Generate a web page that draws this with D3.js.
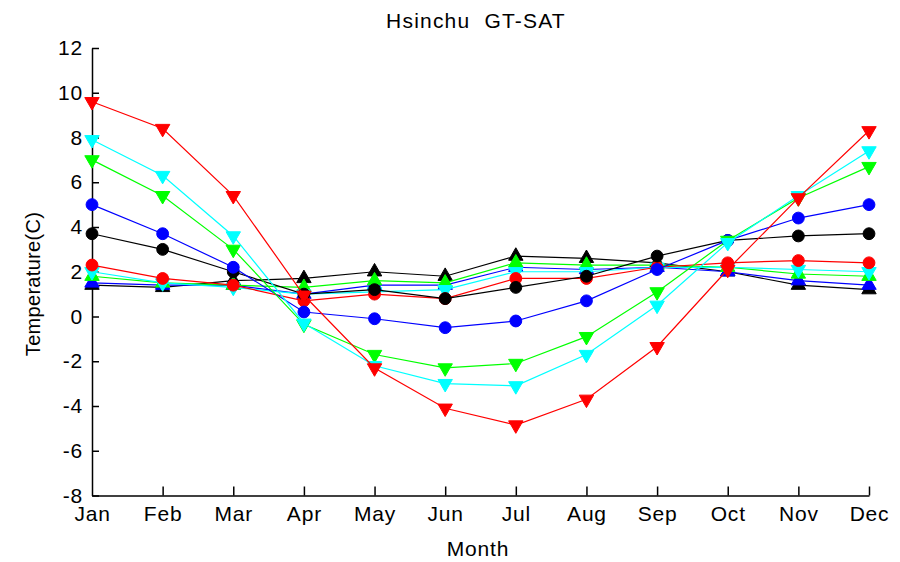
<!DOCTYPE html>
<html>
<head>
<meta charset="utf-8">
<script src="https://cdn.jsdelivr.net/npm/d3@7/dist/d3.min.js"></script>
<style>
  html, body { margin: 0; padding: 0; background: #fff; }
  svg { display: block; }
  text { font-family: "Liberation Sans", Arial, sans-serif; fill: #000; }
</style>
</head>
<body>
<svg id="chart" width="900" height="562"></svg>
<script>
// Monthly temperature curves for Hsinchu (GT-SAT)
const months = ["Jan","Feb","Mar","Apr","May","Jun","Jul","Aug","Sep","Oct","Nov","Dec"];
const yTicks = [-8,-6,-4,-2,0,2,4,6,8,10,12];

const blackUp   = [1.4, 1.3, 1.6, 1.7, 2.0, 1.8, 2.7, 2.6, 2.4, 2.0, 1.4, 1.2];
const blueUp    = [1.5, 1.4, 1.4, 1.0, 1.4, 1.4, 2.2, 2.1, 2.2, 2.0, 1.6, 1.4];
const greenUp   = [1.8, 1.5, 1.4, 1.3, 1.6, 1.5, 2.4, 2.3, 2.3, 2.2, 1.9, 1.8];
const cyanSmall = [2.0, 1.5, 1.3, 1.0, 1.1, 1.2, 2.0, 2.0, 2.2, 2.2, 2.1, 2.0];
const redDot    = [2.3, 1.7, 1.4, 0.7, 1.0, 0.8, 1.7, 1.7, 2.2, 2.4, 2.5, 2.4];
const blackDot  = [3.7, 3.0, 2.0, 1.0, 1.2, 0.8, 1.3, 1.8, 2.7, 3.4, 3.6, 3.7];
const blueDot   = [5.0, 3.7, 2.2, 0.2, -0.1, -0.5, -0.2, 0.7, 2.1, 3.4, 4.4, 5.0];
const greenDown = [7.0, 5.4, 3.0, -0.35, -1.7, -2.3, -2.1, -0.9, 1.1, 3.4, 5.3, 6.7];
const cyanDown  = [7.9, 6.3, 3.6, -0.3, -2.2, -3.0, -3.1, -1.7, 0.5, 3.3, 5.4, 7.4];
const redDown   = [9.6, 8.4, 5.4, 0.95, -2.3, -4.1, -4.85, -3.7, -1.35, 2.1, 5.3, 8.3];

// drawn in this order, later series on top
const series = [
  { values: blackUp,   color: "#000000", marker: "up" },
  { values: blueUp,    color: "#0000ff", marker: "up" },
  { values: greenUp,   color: "#00ff00", marker: "up" },
  { values: cyanSmall, color: "#00ffff", marker: "down" },
  { values: redDot,    color: "#ff0000", marker: "circle" },
  { values: blackDot,  color: "#000000", marker: "circle" },
  { values: blueDot,   color: "#0000ff", marker: "circle" },
  { values: greenDown, color: "#00ff00", marker: "down" },
  { values: cyanDown,  color: "#00ffff", marker: "down" },
  { values: redDown,   color: "#ff0000", marker: "down" }
];

const svg = d3.select("#chart");
const plotLeft = 92, plotRight = 869, plotTop = 48, plotBottom = 495.5;

const x = d3.scalePoint().domain(months).range([plotLeft, plotRight]);
const y = d3.scaleLinear().domain([-8, 12]).range([plotBottom, plotTop]);

// axes: ticks point inward, plain hyphen minus in labels
const fontSize = 21;
const yAxis = d3.axisLeft(y).tickValues(yTicks).tickFormat(d => String(d))
  .tickSizeInner(-7).tickSizeOuter(0).tickPadding(9);
const xAxis = d3.axisBottom(x).tickSizeInner(-9).tickSizeOuter(0).tickPadding(11);

const gy = svg.append("g").attr("transform", `translate(${plotLeft},0)`).call(yAxis);
const gx = svg.append("g").attr("transform", `translate(0,${plotBottom})`).call(xAxis);
[gy, gx].forEach(g => {
  g.select(".domain").attr("stroke", "#000").attr("stroke-width", 1.5);
  g.selectAll(".tick line").attr("stroke", "#000").attr("stroke-width", 1.5);
  g.selectAll(".tick text").attr("font-size", fontSize).attr("letter-spacing", 0.8)
    .attr("font-family", "Liberation Sans, Arial, sans-serif").attr("fill", "#000");
});
gx.selectAll(".tick line").filter(d => d === months[0]).remove();

// lines and markers
const line = d3.line().x((d, i) => x(months[i])).y(d => y(d));
const plot = svg.append("g");

series.forEach(s => {
  const g = plot.append("g");
  g.append("path").datum(s.values)
    .attr("d", line).attr("fill", "none")
    .attr("stroke", s.color).attr("stroke-width", 1.2);

  const sym = s.marker === "circle" ? d3.symbolCircle : d3.symbolTriangle;
  const size = s.marker === "circle" ? 110 : 90;
  g.selectAll("path.m").data(s.values).enter().append("path")
    .attr("class", "m")
    .attr("d", d3.symbol().type(sym).size(size))
    .attr("transform", (d, i) => {
      const rot = s.marker === "down" ? " rotate(180)" : "";
      return `translate(${x(months[i])},${y(d)})${rot}`;
    })
    .attr("fill", s.color).attr("stroke", s.color).attr("stroke-width", 1);
});

// titles
svg.append("text").attr("x", 476).attr("y", 28).attr("text-anchor", "middle")
  .attr("font-size", fontSize).attr("letter-spacing", 1.2)
  .style("white-space", "pre").text("Hsinchu  GT-SAT");
svg.append("text").attr("x", 478).attr("y", 556).attr("text-anchor", "middle")
  .attr("font-size", fontSize).attr("letter-spacing", 0.8).text("Month");
svg.append("text").attr("transform", "translate(40,284) rotate(-90)")
  .attr("text-anchor", "middle").attr("font-size", 20).attr("letter-spacing", 0.3)
  .text("Temperature(C)");
</script>
</body>
</html>
